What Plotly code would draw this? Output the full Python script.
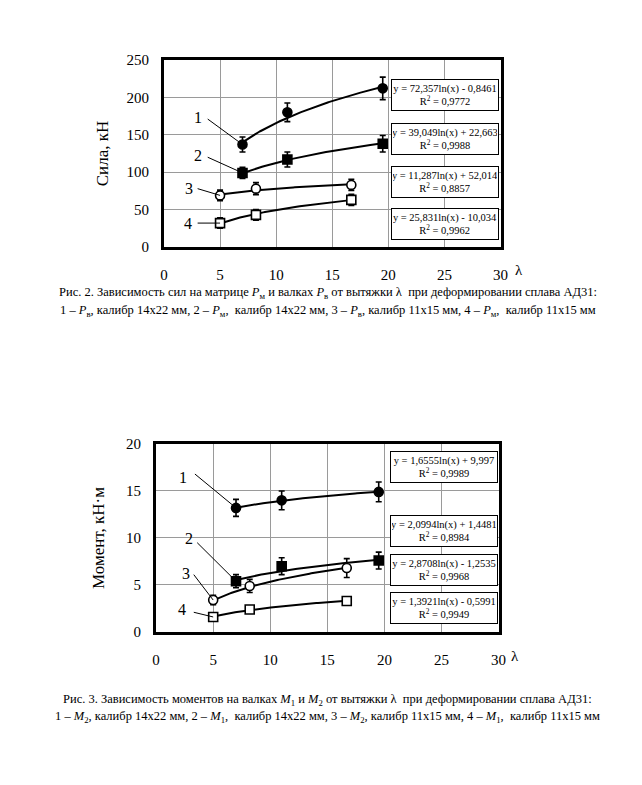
import numpy as np
import plotly.graph_objects as go

W, H = 642, 785

# ---------------- Data: Fig. 2 (forces) ----------------
f_x = [[7, 11, 19.5], [7, 11, 19.5], [5, 8.2, 16.7], [5, 8.2, 16.7]]
f_y = [[137, 180, 212], [99, 117, 138], [69, 78, 83], [32, 43, 63]]
f_err = [[10, 12.5, 15], [7.5, 10, 11], [7, 8, 7.5], [7, 7, 7.5]]
f_coef_a = [72.357, 39.049, 11.287, 25.831]
f_coef_b = [-0.8461, 22.663, 52.014, -10.034]
f_eq = ["y = 72,357ln(x) - 0,8461", "y = 39,049ln(x) + 22,663",
        "y = 11,287ln(x) + 52,014", "y = 25,831ln(x) - 10,034"]
f_r2 = ["0,9772", "0,9988", "0,8857", "0,9962"]

# ---------------- Data: Fig. 3 (moments) ----------------
m_x = [[7, 11, 19.5], [7, 11, 19.5], [5, 8.2, 16.7], [5, 8.2, 16.7]]
m_y = [[13.2, 14.0, 14.9], [5.4, 7.0, 7.6], [3.4, 4.9, 6.8], [1.6, 2.4, 3.3]]
m_err = [[0.9, 1.0, 1.05], [0.7, 0.9, 0.9], [0.5, 0.7, 1.0], [0.3, 0.3, 0.3]]
m_coef_a = [1.6555, 2.0994, 2.8708, 1.3921]
m_coef_b = [9.997, 1.4481, -1.2535, -0.5991]
m_eq = ["y = 1,6555ln(x) + 9,997", "y = 2,0994ln(x) + 1,4481",
        "y = 2,8708ln(x) - 1,2535", "y = 1,3921ln(x) - 0,5991"]
m_r2 = ["0,9989", "0,8984", "0,9968", "0,9949"]

x_ticks = [0, 5, 10, 15, 20, 25, 30]
f_ticks = [0, 50, 100, 150, 200, 250]
m_ticks = [0, 5, 10, 15, 20]
series_labels = ["1", "2", "3", "4"]

symbols = ["circle", "square", "circle", "square"]
fills = ["black", "black", "white", "white"]

FONT = "Liberation Serif, Times New Roman, serif"

fig = go.Figure()


def px(x):
    return x / W


def py(y):
    return 1 - y / H


def add_chart(xs, ys, errs, ca, cb, xa, ya):
    for i in range(4):
        xx = np.linspace(xs[i][0], xs[i][-1], 80)
        fig.add_trace(go.Scatter(
            x=xx, y=ca[i] * np.log(xx) + cb[i], mode="lines",
            line=dict(color="black", width=2), xaxis=xa, yaxis=ya,
            showlegend=False, hoverinfo="skip"))
        fig.add_trace(go.Scatter(
            x=xs[i], y=ys[i], mode="markers",
            marker=dict(symbol=symbols[i], size=9, color=fills[i],
                        line=dict(color="black", width=1.6)),
            error_y=dict(type="data", array=errs[i], color="black", thickness=1.6, width=3),
            xaxis=xa, yaxis=ya, showlegend=False))


add_chart(f_x, f_y, f_err, f_coef_a, f_coef_b, "x", "y")
add_chart(m_x, m_y, m_err, m_coef_a, m_coef_b, "x2", "y2")

axis_common = dict(showgrid=True, gridcolor="#9a9a9a", gridwidth=1,
                   showline=True, linecolor="black", linewidth=3, mirror=True,
                   zeroline=False, ticks="", tickfont=dict(family=FONT, size=15, color="black"))

fig.update_layout(
    width=W, height=H, margin=dict(l=0, r=0, t=0, b=0),
    paper_bgcolor="white", plot_bgcolor="white",
    font=dict(family=FONT, color="black"),
    xaxis=dict(domain=[px(163), px(506)], range=[0, 30], tickvals=x_ticks,
               anchor="y", ticklabelstandoff=12, **axis_common),
    yaxis=dict(domain=[py(244), py(53)], range=[0, 250], tickvals=f_ticks,
               anchor="x", ticklabelstandoff=9,
               title=dict(text="Сила, кН", font=dict(family=FONT, size=17), standoff=14),
               **axis_common),
    xaxis2=dict(domain=[px(155), px(504)], range=[0, 30], tickvals=x_ticks,
                anchor="y2", ticklabelstandoff=12, **axis_common),
    yaxis2=dict(domain=[py(637), py(445)], range=[0, 20], tickvals=m_ticks,
                anchor="x2", ticklabelstandoff=9,
                title=dict(text="Момент, кН·м", font=dict(family=FONT, size=17), standoff=18),
                **axis_common),
)

annotations = []
shapes = []

# equation boxes
f_box_y = [88.5, 133.5, 178, 221]
m_box_y = [468.5, 533.5, 573.5, 612.5]
for eqs, r2s, bys, bx in [(f_eq, f_r2, f_box_y, 449.5), (m_eq, m_r2, m_box_y, 448)]:
    for e, r, by in zip(eqs, r2s, bys):
        annotations.append(dict(
            x=px(bx), y=py(by), xref="paper", yref="paper", showarrow=False,
            xanchor="center", yanchor="middle",
            text=f"{e}<br>R<sup>2</sup> = {r}", align="center",
            font=dict(family=FONT, size=10.5, color="black"),
            bgcolor="white", bordercolor="black", borderwidth=1,
            width=104, height=28, borderpad=1))

# series number labels with leader lines
f_lab = [(3.0, 173), (3.0, 122), (2.2, 78), (2.1, 32)]
f_lead = [(3.9, 171), (3.9, 120), (3.0, 78), (3.0, 32)]
m_lab = [(2.35, 16.4), (2.85, 9.9), (2.6, 6.2), (2.3, 2.4)]
m_lead = [(3.4, 16.8), (3.6, 9.5), (3.3, 6.1), (3.3, 2.1)]
for labs, leads, xs, ys, xr, yr in [(f_lab, f_lead, f_x, f_y, "x", "y"),
                                     (m_lab, m_lead, m_x, m_y, "x2", "y2")]:
    for i in range(4):
        annotations.append(dict(x=labs[i][0], y=labs[i][1], xref=xr, yref=yr,
                                xanchor="center", yanchor="middle",
                                text=series_labels[i], showarrow=False,
                                font=dict(family=FONT, size=16, color="black")))
        shapes.append(dict(type="line", xref=xr, yref=yr,
                           x0=leads[i][0], y0=leads[i][1], x1=xs[i][0], y1=ys[i][0],
                           line=dict(color="black", width=1)))

# lambda labels
annotations.append(dict(x=px(525), y=py(267), xref="paper", yref="paper", text="λ",
                        xanchor="center", yanchor="middle",
                        showarrow=False, font=dict(family=FONT, size=15)))
annotations.append(dict(x=px(521), y=py(661), xref="paper", yref="paper", text="λ",
                        xanchor="center", yanchor="middle",
                        showarrow=False, font=dict(family=FONT, size=15)))

cap = dict(family=FONT, size=12.5, color="black")
captions = [
    (291, "Рис. 2. Зависимость сил на матрице <i>P</i><sub>м</sub> и валках <i>P</i><sub>в</sub> от вытяжки λ  при деформировании сплава АД31:"),
    (309, "1 – <i>P</i><sub>в</sub>, калибр 14х22 мм, 2 – <i>P</i><sub>м</sub>,  калибр 14х22 мм, 3 – <i>P</i><sub>в</sub>, калибр 11х15 мм, 4 – <i>P</i><sub>м</sub>,  калибр 11х15 мм"),
    (706, "Рис. 3. Зависимость моментов на валках <i>M</i><sub>1</sub> и <i>M</i><sub>2</sub> от вытяжки λ  при деформировании сплава АД31:"),
    (724, "1 – <i>M</i><sub>2</sub>, калибр 14х22 мм, 2 – <i>M</i><sub>1</sub>,  калибр 14х22 мм, 3 – <i>M</i><sub>2</sub>, калибр 11х15 мм, 4 – <i>M</i><sub>1</sub>,  калибр 11х15 мм"),
]
for yy, t in captions:
    annotations.append(dict(x=px(330), y=py(yy), xref="paper", yref="paper", text=t,
                            xanchor="center", yanchor="middle",
                            showarrow=False, font=cap))

fig.update_layout(annotations=annotations, shapes=shapes)
fig.write_html("out.html", config={"displayModeBar": False},
               post_script="document.body.style.margin='0';document.body.style.overflow='hidden';")
